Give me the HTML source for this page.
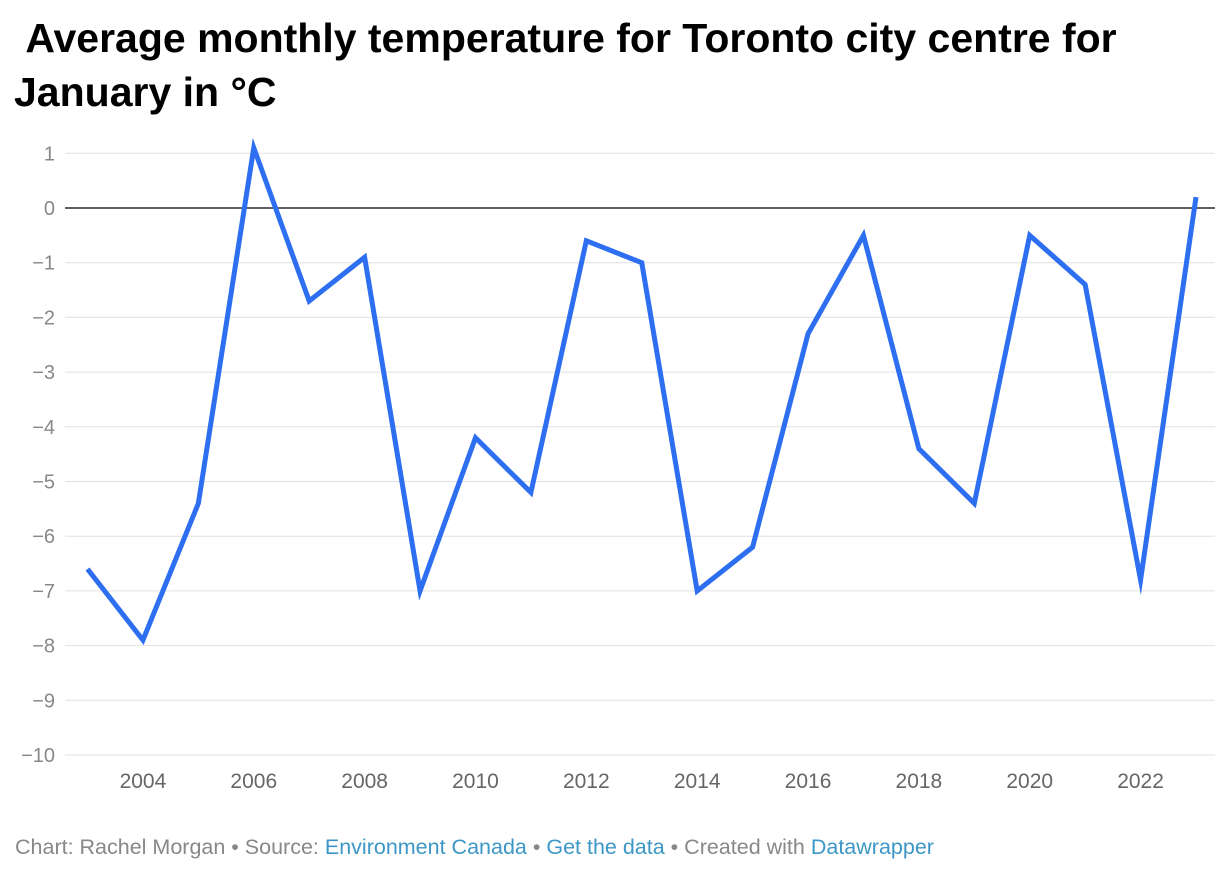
<!DOCTYPE html>
<html><head><meta charset="utf-8"><style>
body{margin:0;background:#fff;width:1232px;height:879px;overflow:hidden;font-family:"Liberation Sans",Arial,sans-serif}
h1{position:absolute;left:14px;top:11px;margin:0;font-size:41px;line-height:54px;font-weight:bold;color:#000;width:1220px;white-space:nowrap}
.foot{position:absolute;left:15px;top:835px;font-size:21.5px;color:#888;white-space:nowrap}
.foot a{color:#3c97c6;text-decoration:none}
</style></head><body>
<h1>&nbsp;Average monthly temperature for Toronto city centre for<br>January in °C</h1>
<svg id="chart" width="1232" height="879" style="position:absolute;left:0;top:0"></svg>
<div class="foot">Chart: Rachel Morgan • Source: <a>Environment Canada</a> • <a>Get the data</a> • Created with <a>Datawrapper</a></div>
<script>
const years=[2003,2004,2005,2006,2007,2008,2009,2010,2011,2012,2013,2014,2015,2016,2017,2018,2019,2020,2021,2022,2023];
const temps=[-6.6,-7.9,-5.4,1.1,-1.7,-0.9,-7.0,-4.2,-5.2,-0.6,-1.0,-7.0,-6.2,-2.3,-0.5,-4.4,-5.4,-0.5,-1.4,-6.8,0.2];
const yTicks=[1,0,-1,-2,-3,-4,-5,-6,-7,-8,-9,-10];
const xTicks=[2004,2006,2008,2010,2012,2014,2016,2018,2020,2022];
const svg=document.getElementById('chart');
const NS='http://www.w3.org/2000/svg';
const x=v=>87.5+(v-2003)*(1196-87.5)/20;
const y=v=>208-v*54.7;
function mk(t,a){const e=document.createElementNS(NS,t);for(const k in a)e.setAttribute(k,a[k]);svg.appendChild(e);return e;}
yTicks.forEach(t=>{
  const l=mk('line',{x1:65,x2:1215,y1:y(t),y2:y(t),stroke:t===0?'#000':'#e0e0e0','stroke-width':t===0?1.3:1});
  
  
  const tx=mk('text',{x:55,y:y(t)+7,'text-anchor':'end','font-size':20,fill:'#888','font-family':'Liberation Sans, sans-serif'});
  tx.textContent=t<0?'\u2212'+(-t):String(t);
  
  
});
xTicks.forEach(t=>{
  const tx=mk('text',{x:x(t),y:788,'text-anchor':'middle','font-size':21,fill:'#666','font-family':'Liberation Sans, sans-serif'});
  tx.textContent=t;
  
  
});
const p=mk('polyline',{points:years.map((yr,i)=>x(yr)+','+y(temps[i])).join(' '),fill:'none',stroke:'#2d6ff0','stroke-width':5,'stroke-linejoin':'miter','stroke-miterlimit':10});


</script>
</body></html>
